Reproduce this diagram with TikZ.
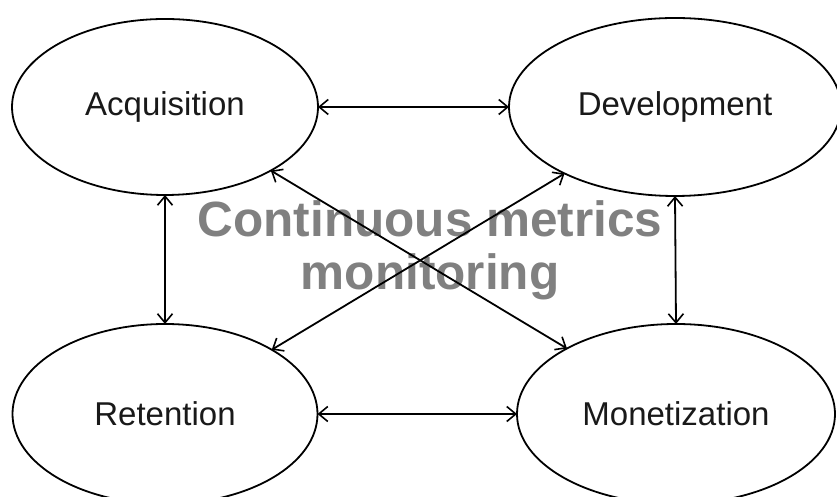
\documentclass[tikz,border=0pt]{standalone}
\usepackage{fontspec}
\setmainfont{Liberation Sans}
\usetikzlibrary{shapes.geometric,arrows.meta}
\tikzset{
  stage/.style={ellipse, draw=black, line width=1.8pt, fill=white, inner sep=0pt, outer sep=0pt,
    font=\fontsize{33}{40}\selectfont, text=black!90},
  link/.style={line width=1.8pt, {Straight Barb[length=9pt,width=15pt,line width=1.6pt]}-{Straight Barb[length=9pt,width=15pt,line width=1.6pt]}},
  overlay/.style={font=\fontsize{49.5}{53}\selectfont\bfseries, text=black!50, inner sep=0pt, anchor=base}
}
\begin{document}
\begin{tikzpicture}[x=1pt,y=1pt]
\useasboundingbox (0,0) rectangle (837,497);
\fill[white] (0,0) rectangle (837,497);
\node[overlay] (title1) at (430,260) {Continuous metrics};
\node[overlay] (title2) at (430,207) {monitoring};
\node[stage, minimum width=306pt, minimum height=176pt] (acq) at (165,390) {Acquisition};
\node[stage, minimum width=332pt, minimum height=178pt] (dev) at (675,390) {Development};
\node[stage, minimum width=305pt, minimum height=180pt] (ret) at (165,83) {Retention};
\node[stage, minimum width=318pt, minimum height=180pt] (mon) at (676,83) {Monetization};
\draw[link] (acq.east) -- (dev.west);
\draw[link] (ret.east) -- (mon.west);
\draw[link] (acq.south) -- (ret.north);
\draw[link] (dev.south) -- (mon.north);
\draw[link] (acq) -- (mon);
\draw[link] (dev) -- (ret);
\end{tikzpicture}
\end{document}
